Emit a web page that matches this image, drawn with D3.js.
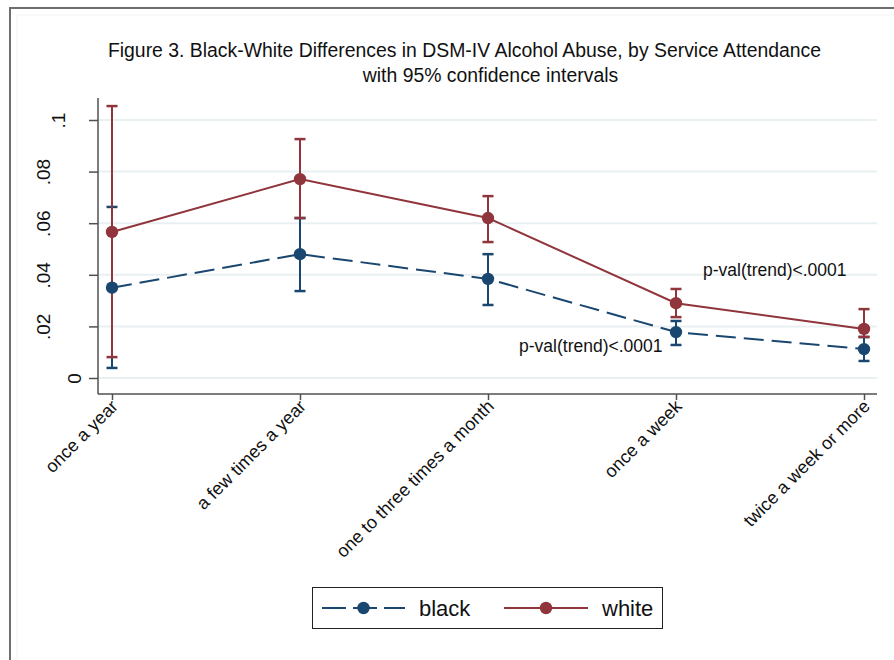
<!DOCTYPE html>
<html>
<head>
<meta charset="utf-8">
<script src="https://cdn.jsdelivr.net/npm/d3@7"></script>
<style>
  html, body { margin: 0; padding: 0; background: #ffffff; }
  svg { display: block; font-family: "Liberation Sans", Arial, Helvetica, sans-serif; }
</style>
</head>
<body>
<svg id="chart" width="894" height="660"></svg>
<script>
// Attendance categories along the x axis
const categories = ["once a year", "a few times a year", "one to three times a month", "once a week", "twice a week or more"];

// Black respondents: prevalence and 95% CI bounds
const blackMean = [0.0350, 0.0480, 0.0384, 0.0178, 0.0112];
const blackLow  = [0.0039, 0.0337, 0.0283, 0.0128, 0.0066];
const blackHigh = [0.0663, 0.0620, 0.0480, 0.0221, 0.0159];

// White respondents: prevalence and 95% CI bounds
const whiteMean = [0.0566, 0.0771, 0.0620, 0.0290, 0.0190];
const whiteLow  = [0.0081, 0.0620, 0.0527, 0.0236, 0.0159];
const whiteHigh = [0.1054, 0.0926, 0.0705, 0.0345, 0.0267];

// Y axis ticks and their labels
const yTicks = [0, 0.02, 0.04, 0.06, 0.08, 0.1];
const yTickLabels = ["0", ".02", ".04", ".06", ".08", ".1"];

// Trend annotations (x in category units, y in data units)
const notes = [
  { text: "p-val(trend)<.0001", x: 4.144, y: 0.0395 },
  { text: "p-val(trend)<.0001", x: 3.165, y: 0.0101 }
];

const NAVY = "#1a476f", MAROON = "#90353b", GRID = "#e8f0f2", AXIS = "#505050";

const svg = d3.select("#chart");
svg.append("rect").attr("width", 894).attr("height", 660).attr("fill", "#ffffff");

// outer frame (top and left edges visible)
svg.append("path").attr("d", "M10,660 V8 H894").attr("fill", "none")
  .attr("stroke", "#6e6e6e").attr("stroke-width", 2);
svg.append("path").attr("d", "M17,660 V15 H894").attr("fill", "none")
  .attr("stroke", "#f2f2f2").attr("stroke-width", 1);

// plot region
const plot = { left: 98, right: 877, top: 98, bottom: 394 };
const x = d3.scaleLinear().domain([1, 5]).range([112, 864]);
const y = d3.scaleLinear().domain([0, 0.1]).range([378, 120]);

// titles
svg.append("text").attr("x", 464.5).attr("y", 57).attr("text-anchor", "middle")
  .attr("font-size", 19.4).attr("fill", "#111")
  .text("Figure 3. Black-White Differences in DSM-IV Alcohol Abuse, by Service Attendance");
svg.append("text").attr("x", 490.5).attr("y", 82).attr("text-anchor", "middle")
  .attr("font-size", 19.4).attr("fill", "#111")
  .text("with 95% confidence intervals");

// gridlines
svg.append("g").selectAll("line").data(yTicks).join("line")
  .attr("x1", plot.left).attr("x2", plot.right)
  .attr("y1", d => y(d)).attr("y2", d => y(d))
  .attr("stroke", GRID).attr("stroke-width", 2);

// y axis
const yAxis = svg.append("g").attr("transform", `translate(${plot.left},0)`)
  .call(d3.axisLeft(y).tickValues(yTicks).tickFormat((d, i) => yTickLabels[i]).tickSize(9).tickSizeOuter(0));
yAxis.select(".domain").remove();
yAxis.selectAll(".tick line").attr("stroke", AXIS).attr("stroke-width", 1.5);
yAxis.selectAll(".tick text")
  .attr("x", null).attr("dy", null).attr("y", null)
  .attr("text-anchor", "middle")
  .attr("font-size", 19).attr("fill", "#111")
  .attr("transform", (d, i) => `translate(${-48.5 + (3 - yTickLabels[i].length) * 15.5},0) rotate(-90)`);
svg.append("line").attr("x1", plot.left).attr("x2", plot.left)
  .attr("y1", plot.top).attr("y2", plot.bottom)
  .attr("stroke", AXIS).attr("stroke-width", 1.5);

// x axis
const xAxis = svg.append("g").attr("transform", `translate(0,${plot.bottom})`)
  .call(d3.axisBottom(x).tickValues([1, 2, 3, 4, 5]).tickFormat(d => categories[d - 1]).tickSize(6).tickSizeOuter(0));
xAxis.select(".domain").remove();
xAxis.selectAll(".tick line").attr("stroke", AXIS).attr("stroke-width", 1.5);
xAxis.selectAll(".tick text")
  .attr("x", null).attr("y", null).attr("dy", "0.35em")
  .attr("text-anchor", "end")
  .attr("font-size", 18).attr("fill", "#111")
  .attr("transform", "translate(2,9) rotate(-45)");
svg.append("line").attr("x1", plot.left).attr("x2", plot.right)
  .attr("y1", plot.bottom).attr("y2", plot.bottom)
  .attr("stroke", AXIS).attr("stroke-width", 1.5);

// confidence intervals
function drawCI(low, high, color) {
  const g = svg.append("g").attr("stroke", color).attr("fill", "none");
  const idx = d3.range(categories.length);
  g.selectAll(".whisker").data(idx).join("line")
    .attr("x1", i => x(i + 1)).attr("x2", i => x(i + 1))
    .attr("y1", i => y(low[i])).attr("y2", i => y(high[i]))
    .attr("stroke-width", 2);
  g.selectAll(".capLow").data(idx).join("line")
    .attr("x1", i => x(i + 1) - 5.5).attr("x2", i => x(i + 1) + 5.5)
    .attr("y1", i => y(low[i])).attr("y2", i => y(low[i]))
    .attr("stroke-width", 2.5);
  g.selectAll(".capHigh").data(idx).join("line")
    .attr("x1", i => x(i + 1) - 5.5).attr("x2", i => x(i + 1) + 5.5)
    .attr("y1", i => y(high[i])).attr("y2", i => y(high[i]))
    .attr("stroke-width", 2.5);
}
drawCI(blackLow, blackHigh, NAVY);
drawCI(whiteLow, whiteHigh, MAROON);

// connected series
function drawSeries(vals, color, dash) {
  const line = d3.line().x((d, i) => x(i + 1)).y(d => y(d));
  svg.append("path").datum(vals).attr("d", line)
    .attr("fill", "none").attr("stroke", color).attr("stroke-width", 2)
    .attr("stroke-dasharray", dash);
  svg.append("g").selectAll("circle").data(vals).join("circle")
    .attr("cx", (d, i) => x(i + 1)).attr("cy", d => y(d)).attr("r", 6.2)
    .attr("fill", color);
}
drawSeries(blackMean, NAVY, "20,8");
drawSeries(whiteMean, MAROON, null);

// annotations
svg.append("g").selectAll("text").data(notes).join("text")
  .attr("x", d => x(d.x)).attr("y", d => y(d.y))
  .attr("font-size", 17.5).attr("fill", "#111")
  .text(d => d.text);

// legend
const lg = svg.append("g");
lg.append("rect").attr("x", 312.5).attr("y", 587.5).attr("width", 350).attr("height", 41)
  .attr("fill", "#fff").attr("stroke", "#222").attr("stroke-width", 1);
const legendItems = [
  { label: "black", color: NAVY, dash: "24,7", x0: 322, x1: 405, tx: 419 },
  { label: "white", color: MAROON, dash: null, x0: 504, x1: 588, tx: 602 }
];
legendItems.forEach(it => {
  lg.append("line").attr("x1", it.x0).attr("x2", it.x1).attr("y1", 608).attr("y2", 608)
    .attr("stroke", it.color).attr("stroke-width", 2).attr("stroke-dasharray", it.dash);
  lg.append("circle").attr("cx", (it.x0 + it.x1) / 2).attr("cy", 608).attr("r", 6.2).attr("fill", it.color);
  lg.append("text").attr("x", it.tx).attr("y", 616).attr("font-size", 22).attr("fill", "#111").text(it.label);
});
</script>
</body>
</html>
